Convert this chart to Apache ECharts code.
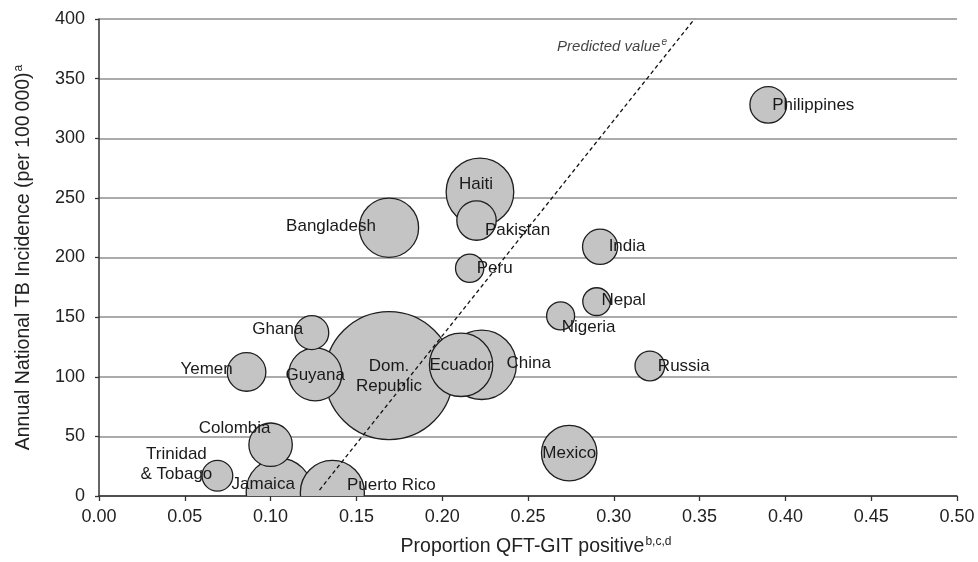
<!DOCTYPE html>
<html>
<head>
<meta charset="utf-8">
<script src="https://cdn.jsdelivr.net/npm/echarts@6/dist/echarts.min.js"></script>
<style>
html,body{margin:0;padding:0;background:#fff;}
#chart{width:978px;height:562px;}
</style>
</head>
<body>
<div id="chart"></div>
<script>
// ---- data ----
const countries = ['Philippines','Haiti','Pakistan','Bangladesh','India','Peru','Nepal','Nigeria','Ghana','Yemen','Guyana','Dom.\nRepublic','Ecuador','China','Russia','Mexico','Colombia','Trinidad\n& Tobago','Jamaica','Puerto Rico'];
const qftPositive = [0.390,0.222,0.220,0.169,0.292,0.216,0.290,0.269,0.124,0.086,0.126,0.169,0.211,0.223,0.321,0.274,0.100,0.069,0.105,0.136];
const tbIncidence = [328,255,231,225,209,191,163,151,137,104,102,101,110,110,109,36,43,17,4,3];
const sampleSize  = [84,286,97,219,77,50,48,49,72,93,176,1024,251,301,55,192,118,59,272,256];
const predictedLine = [[0.1285,5],[0.347,400]];
const predictedText = 'Predicted value';
const predictedSup = 'e';
const predictedAnchor = [0.331, 377];
const xTicks = {min:0, max:0.5, step:0.05};
const yTicks = {min:0, max:400, step:50};

// ---- label placement (layout, px offsets from bubble centre) ----
const labelOffsets = {
  'Philippines':[45,0],'Haiti':[-4,-8],'Pakistan':[41,10],'Bangladesh':[-58,-1],'India':[27,0],
  'Peru':[25,0],'Nepal':[27,-1],'Nigeria':[28,11],'Ghana':[-34,-3],'Yemen':[-40,-3],'Guyana':[0,1],
  'Dom.\nRepublic':[0,1],'Ecuador':[0,0],'China':[47,-2],'Russia':[34,0],'Mexico':[0,0],
  'Colombia':[-36,-16],'Trinidad\n& Tobago':[-41,-11],'Jamaica':[-16,-7],'Puerto Rico':[59,-7]
};

const FONT = '"Liberation Sans", Arial, Helvetica, sans-serif';
let items = countries.map((c,i)=>({
  name:c,
  value:[qftPositive[i], tbIncidence[i], sampleSize[i]]
}));
items.sort((a,b)=>b.value[2]-a.value[2]);

function renderBubble(params, api){
  const it = items[params.dataIndex];
  const pt = api.coord([api.value(0), api.value(1)]);
  const r = 2*Math.sqrt(api.value(2));
  const off = labelOffsets[it.name] || [0,0];
  return {
    type:'group',
    children:[
      {type:'circle', shape:{cx:pt[0], cy:pt[1], r:r},
       style:{fill:'#c4c4c4', stroke:'#1e1e1e', lineWidth:1.3}, z2:1},
      {type:'text', x:pt[0]+off[0], y:pt[1]+off[1], z2:100,
       style:{text:it.name, fontFamily:FONT, fontSize:17, fill:'#1a1a1a',
              align:'center', verticalAlign:'middle', lineHeight:20}}
    ]
  };
}

const chart = echarts.init(document.getElementById('chart'), null, {renderer:'canvas'});
chart.setOption({
  animation:false,
  backgroundColor:'#ffffff',
  grid:{left:99, right:21, top:19, bottom:64, containLabel:false},
  xAxis:{
    type:'value', min:xTicks.min, max:xTicks.max, interval:xTicks.step,
    name:'Proportion QFT-GIT positive{sup|b,c,d}',
    nameLocation:'middle', nameGap:40,
    nameTextStyle:{fontFamily:FONT, fontSize:19.5, color:'#222', padding:[0,0,0,16],
      rich:{sup:{fontFamily:FONT, fontSize:12, color:'#222', verticalAlign:'top', padding:[0,0,10,1]}}},
    axisLine:{show:true, lineStyle:{color:'#333', width:1.5}},
    axisTick:{show:true, inside:false, length:5, lineStyle:{color:'#333', width:1.3}},
    axisLabel:{fontFamily:FONT, fontSize:18, color:'#222', margin:12,
      formatter:v=>v.toFixed(2)},
    splitLine:{show:false}
  },
  yAxis:{
    type:'value', min:yTicks.min, max:yTicks.max, interval:yTicks.step,
    name:'Annual National TB Incidence (per 100\u2009000){sup|a}',
    nameLocation:'middle', nameGap:64, nameRotate:90,
    nameTextStyle:{fontFamily:FONT, fontSize:19.5, color:'#222',
      rich:{sup:{fontFamily:FONT, fontSize:12, color:'#222', verticalAlign:'top', padding:[0,0,10,1]}}},
    axisLine:{show:true, lineStyle:{color:'#333', width:1.5}},
    axisTick:{show:true, inside:false, length:4, lineStyle:{color:'#333', width:1.3}},
    axisLabel:{fontFamily:FONT, fontSize:18, color:'#222', margin:14},
    splitLine:{show:true, lineStyle:{color:'#8f8f8f', width:1.5}}
  },
  series:[
    {
      type:'custom',
      clip:true,
      coordinateSystem:'cartesian2d',
      data:items.map(d=>d.value),
      renderItem:renderBubble,
      silent:true,
      z:2
    },
    {
      type:'line',
      data:predictedLine,
      symbol:'none',
      lineStyle:{color:'#111', width:1.3, type:[4,3]},
      z:5, silent:true
    },
    {
      type:'scatter',
      data:[predictedAnchor],
      symbolSize:0,
      label:{show:true, position:'left', distance:0,
        formatter:()=>predictedText+'{sup|'+predictedSup+'}',
        fontFamily:FONT, fontSize:15, fontStyle:'italic', color:'#111',
        rich:{sup:{fontFamily:FONT, fontSize:10, fontStyle:'italic', color:'#111', verticalAlign:'top', padding:[0,0,8,1]}}},
      silent:true, z:6
    }
  ]
});
</script>
</body>
</html>
